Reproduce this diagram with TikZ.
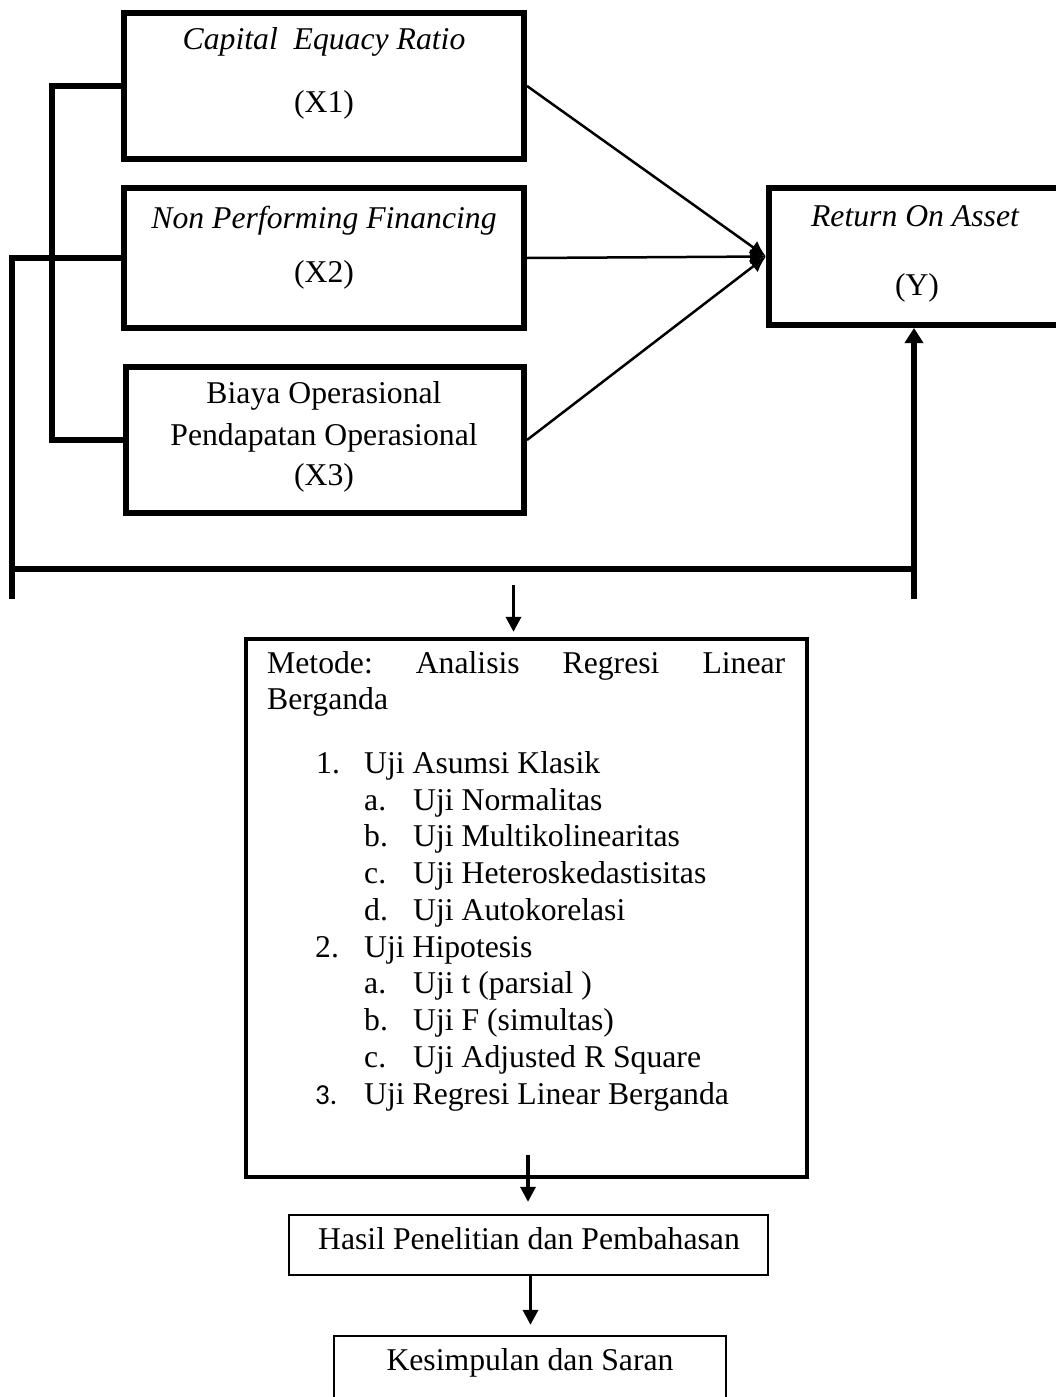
\documentclass[tikz,border=0pt]{standalone}
\usepackage{fontspec}
\setmainfont{Liberation Serif}
\newfontfamily\numfont{Carlito}
\usetikzlibrary{arrows.meta}

\tikzset{
	heavybox/.style={draw, rectangle, line width=6pt, inner sep=0pt},
	lightbox/.style={draw, rectangle, line width=2.3pt, inner sep=0pt},
	txt/.style={inner sep=0pt, text height=0.7em, text depth=0.22em, font=\fontsize{31.7}{36.5}\selectfont},
	itxt/.style={txt, font=\fontsize{31.7}{36.5}\selectfont\itshape},
	feed/.style={line width=6pt},
	conv/.style={line width=2.5pt, -{Latex[length=16pt, width=15pt]}},
	flow/.style={line width=3.3pt, -{Triangle[length=15pt, width=15pt]}}
}

\begin{document}
\begin{tikzpicture}[x=1pt, y=-1pt]
		\useasboundingbox (0,0) rectangle (1056,1397);

		% Variable 1: CAR
		\node[heavybox, minimum width=400pt, minimum height=146pt] (x1) at (324,86) {};
		\node[itxt] at (324,47) {Capital\ \ Equacy Ratio};
		\node[txt] at (324,110) {(X1)};

		% Variable 2: NPF
		\node[heavybox, minimum width=400pt, minimum height=140pt] (x2) at (324,258) {};
		\node[itxt] at (324,226) {Non Performing Financing};
		\node[txt] at (324,280) {(X2)};

		% Variable 3: BOPO
		\node[heavybox, minimum width=398pt, minimum height=146pt] (x3) at (325,440) {};
		\node[txt] at (324,401) {Biaya Operasional};
		\node[txt] at (324,443) {Pendapatan Operasional};
		\node[txt] at (324,483) {(X3)};

		% Dependent: ROA
		\node[heavybox, minimum width=311pt, minimum height=137pt] (roa) at (924.5,256.5) {};
		\node[itxt] at (915,224) {Return On Asset};
		\node[txt] at (917,293) {(Y)};

		% X -> Y
		\draw[conv] (x1.east) -- (roa.west);
		\draw[conv] (x2.east) -- (roa.west);
		\draw[conv] (x3.east) -- (roa.west);

		% bracket and simultaneous path
		\coordinate (brk) at (52,0);
		\coordinate (lft) at (12,599);
		\coordinate (rgt) at (914,599);
		\coordinate (bus) at (0,569);
		\draw[feed] (x1.west) -- (x1.west -| brk) -- (x3.west -| brk) -- (x3.west);
		\draw[feed] (x2.west) -| (lft);
		\draw[feed] (lft |- bus) -- (rgt |- bus);
		\draw[feed, -{Triangle[length=15pt, width=18pt]}] (rgt) -- (rgt |- roa.south);

		% Method
		\coordinate (in1) at (513.5,585);
		\node[draw, rectangle, line width=4.3pt, inner sep=0pt, minimum width=561pt, minimum height=538pt] (metode) at (526.5,908) {};
		\draw[flow, shorten >=5pt] (in1) -- (in1 |- metode.north);
		\node[txt, anchor=west] at (267,671) {\makebox[518pt][s]{Metode:\ Analisis Regresi Linear}};
		\node[txt, anchor=west] at (267,707) {Berganda};
		\node[txt, anchor=west] at (316,771) {\makebox[48pt][l]{1.}Uji Asumsi Klasik};
		\node[txt, anchor=west] at (364,808) {\makebox[49pt][l]{a.}Uji Normalitas};
		\node[txt, anchor=west] at (364,844) {\makebox[49pt][l]{b.}Uji Multikolinearitas};
		\node[txt, anchor=west] at (364,881) {\makebox[49pt][l]{c.}Uji Heteroskedastisitas};
		\node[txt, anchor=west] at (364,918) {\makebox[49pt][l]{d.}Uji Autokorelasi};
		\node[txt, anchor=west] at (315,955) {\makebox[49pt][l]{2.}Uji Hipotesis};
		\node[txt, anchor=west] at (364,991) {\makebox[49pt][l]{a.}Uji t (parsial )};
		\node[txt, anchor=west] at (364,1028) {\makebox[49pt][l]{b.}Uji F (simultas)};
		\node[txt, anchor=west] at (364,1065) {\makebox[49pt][l]{c.}Uji Adjusted R Square};
		\node[txt, anchor=west] at (315,1102) {\makebox[49pt][l]{\numfont\fontsize{29}{33}\selectfont 3.}Uji Regresi Linear Berganda};

		% Result
		\coordinate (in2) at (528,1155);
		\node[lightbox, minimum width=479pt, minimum height=60pt] (hasil) at (528.5,1245) {};
		\node[txt] at (529,1247) {Hasil Penelitian dan Pembahasan};
		\draw[flow, shorten >=12pt] (in2) -- (in2 |- hasil.north);

		% Conclusion
		\coordinate (in3) at (530.5,0);
		\node[lightbox, minimum width=392pt, minimum height=104pt] (simpul) at (530,1388) {};
		\node[txt] at (530,1368) {Kesimpulan dan Saran};
		\draw[flow, shorten >=10pt] (in3 |- hasil.south) -- (in3 |- simpul.north);
	\end{tikzpicture}
\end{document}
